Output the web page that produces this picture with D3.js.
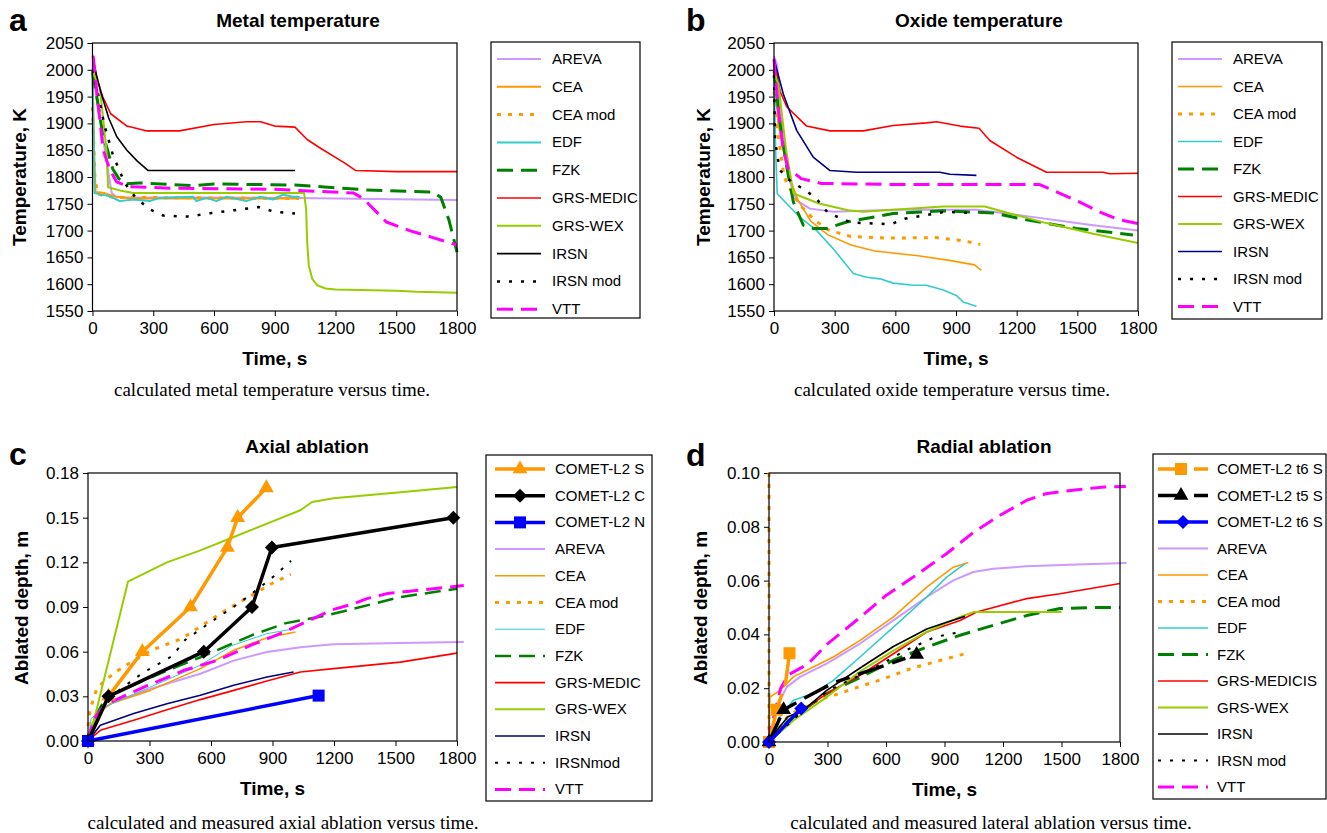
<!DOCTYPE html>
<html lang="en">
<head>
<meta charset="UTF-8">
<title>Temperatures and ablation</title>
<script src="https://cdn.jsdelivr.net/npm/d3@7"></script>
<style>
  body { margin: 0; background: #fff; }
  text { font-family: Arial, "Liberation Sans", sans-serif; fill: #000; }
  .caption { font-family: "Liberation Serif", "Times New Roman", serif; }
</style>
</head>
<body>
<div id="vis"></div>
<script>
// ---- shared ticks ----
var timeTicks = [0, 300, 600, 900, 1200, 1500, 1800];
var tempTicks = [1550, 1600, 1650, 1700, 1750, 1800, 1850, 1900, 1950, 2000, 2050];
var axialTicks = [0, 0.03, 0.06, 0.09, 0.12, 0.15, 0.18];
var radialTicks = [0, 0.02, 0.04, 0.06, 0.08, 0.10];

// ---- a: metal temperature [time s, K] ----
var metalAREVA = [[0,1995],[40,1900],[80,1805],[95,1770],[120,1762],[1000,1761],[1800,1757]];
var metalCEA = [[0,2000],[8,1850],[15,1772],[60,1770],[118,1763],[200,1760],[1020,1760]];
var metalCEAmod = [[0,1930],[12,1800],[25,1768],[100,1762],[1020,1760]];
var metalEDF = [[0,2000],[4,1900],[10,1770],[20,1769],[86,1764],[135,1755],[200,1758],[283,1755],[332,1761],[497,1763],[513,1755],[563,1761],[612,1755],[661,1763],[760,1755],[826,1763],[892,1758],[941,1767],[990,1763],[1023,1763]];
var metalFZK = [[0,1995],[30,1930],[50,1880],[70,1856],[100,1815],[130,1797],[160,1787],[230,1789],[500,1784],[600,1787],[1000,1785],[1200,1780],[1350,1776],[1680,1772],[1720,1762],[1760,1720],[1800,1660]];
var metalMEDIC = [[0,2020],[20,1985],[50,1950],[90,1918],[170,1895],[270,1886],[430,1886],[600,1898],[760,1903],[830,1903],[900,1895],[1000,1893],[1060,1870],[1120,1855],[1250,1825],[1300,1812],[1500,1810],[1800,1810]];
var metalWEX = [[0,1995],[36,1968],[69,1850],[77,1781],[135,1775],[201,1770],[1045,1770],[1055,1740],[1060,1680],[1068,1635],[1085,1610],[1110,1598],[1150,1592],[1200,1590],[1500,1588],[1600,1586],[1800,1584]];
var metalIRSN = [[0,2025],[20,1990],[40,1960],[80,1910],[120,1875],[170,1850],[220,1830],[275,1812],[1000,1812]];
var metalIRSNmod = [[0,2000],[30,1950],[60,1895],[100,1842],[130,1815],[160,1788],[210,1763],[280,1740],[350,1728],[480,1726],[550,1731],[700,1738],[820,1744],[900,1735],[1000,1732]];
var metalVTT = [[0,2025],[4,2024],[29,1931],[53,1850],[86,1813],[119,1791],[177,1782],[400,1779],[900,1777],[1290,1770],[1336,1760],[1402,1735],[1451,1716],[1566,1700],[1681,1687],[1800,1673]];

// ---- b: oxide temperature ----
var oxAREVA = [[0,2025],[15,2010],[40,1900],[70,1800],[112,1756],[178,1741],[293,1735],[590,1739],[1001,1739],[1248,1727],[1578,1710],[1800,1700]];
var oxCEA = [[0,2010],[20,1900],[69,1807],[119,1757],[183,1717],[267,1692],[381,1673],[498,1662],[712,1653],[875,1644],[992,1636],[1025,1626]];
var oxCEAmod = [[0,1960],[20,1880],[50,1800],[90,1770],[135,1745],[200,1720],[270,1701],[380,1689],[550,1686],[800,1687],[940,1681],[1020,1674]];
var oxEDF = [[0,2000],[8,1850],[16,1769],[63,1750],[128,1725],[211,1700],[293,1666],[392,1620],[458,1613],[524,1610],[590,1602],[688,1598],[754,1598],[837,1589],[902,1579],[935,1567],[1001,1559]];
var oxFZK = [[0,2000],[30,1900],[63,1819],[96,1753],[145,1710],[194,1704],[260,1704],[359,1716],[590,1732],[837,1737],[1084,1733],[1248,1720],[1495,1704],[1775,1692]];
var oxMEDIC = [[0,2020],[30,1960],[63,1931],[161,1895],[277,1886],[441,1886],[590,1896],[754,1901],[804,1903],[919,1895],[1014,1891],[1067,1868],[1199,1837],[1347,1809],[1627,1809],[1660,1806],[1800,1807]];
var oxWEX = [[0,1995],[21,1974],[60,1850],[96,1770],[119,1766],[218,1751],[366,1738],[441,1735],[590,1739],[837,1745],[1042,1745],[1166,1732],[1347,1714],[1578,1694],[1800,1677]];
var oxIRSN = [[0,2020],[46,1955],[112,1887],[194,1837],[277,1812],[408,1809],[820,1809],[870,1805],[1001,1803]];
var oxIRSNmod = [[0,1990],[5,1870],[28,1813],[86,1791],[152,1776],[209,1760],[267,1733],[381,1715],[579,1712],[646,1722],[844,1735],[992,1733]];
var oxVTT = [[0,2020],[20,1931],[44,1856],[69,1816],[135,1797],[234,1788],[600,1786],[1000,1786],[1314,1786],[1380,1775],[1512,1753],[1627,1732],[1710,1720],[1800,1713]];

// ---- c: axial ablation [time s, m] ----
var axCometS = [[0,0],[100,0.03],[265,0.06],[500,0.09],[680,0.13],[730,0.15],[870,0.17]];
var axCometC = [[0,0],[100,0.03],[565,0.06],[800,0.09],[897,0.13],[1782,0.15]];
var axCometN = [[0,0],[1125,0.0305]];
var axAREVA = [[0,0],[30,0.012],[60,0.0206],[125,0.0262],[304,0.035],[548,0.0452],[711,0.054],[873,0.0598],[1036,0.063],[1198,0.065],[1524,0.0658],[1833,0.0665]];
var axCEA = [[0,0],[20,0.012],[60,0.02],[110,0.025],[304,0.034],[548,0.0486],[711,0.061],[873,0.0694],[1012,0.0732]];
var axCEAmod = [[0,0.01],[10,0.021],[45,0.036],[130,0.046],[200,0.052],[310,0.061],[460,0.069],[650,0.086],[750,0.094],[900,0.106],[990,0.112]];
var axEDF = [[0,0],[15,0.015],[40,0.018],[100,0.024],[300,0.036],[550,0.051],[700,0.064],[870,0.072],[990,0.075]];
var axFZK = [[0,0],[30,0.015],[70,0.025],[110,0.031],[148,0.033],[311,0.043],[555,0.0566],[798,0.071],[961,0.079],[1172,0.0846],[1524,0.0967],[1800,0.1023]];
var axMEDIC = [[0,0],[60,0.0072],[223,0.0139],[385,0.021],[548,0.0278],[711,0.034],[873,0.0403],[1036,0.0463],[1198,0.0486],[1361,0.0508],[1524,0.053],[1800,0.059]];
var axWEX = [[0,0],[40,0.02],[195,0.107],[385,0.12],[548,0.128],[711,0.137],[873,0.146],[1036,0.155],[1093,0.1605],[1198,0.163],[1524,0.167],[1800,0.1706]];
var axIRSN = [[0,0],[60,0.0105],[223,0.0184],[385,0.025],[548,0.0307],[711,0.0374],[873,0.043],[1003,0.0463]];
var axIRSNmod = [[0,0],[50,0.02],[100,0.029],[140,0.033],[270,0.046],[410,0.057],[475,0.068],[590,0.079],[720,0.091],[800,0.099],[910,0.111],[990,0.121]];
var axVTT = [[0,0],[30,0.015],[80,0.024],[132,0.0275],[278,0.0365],[473,0.0477],[636,0.0544],[798,0.0645],[961,0.0734],[1189,0.088],[1296,0.0922],[1361,0.0956],[1459,0.099],[1686,0.1023],[1833,0.1045]];

// ---- d: radial ablation ----
var radT6S = [[0,0],[40,0.012],[85,0.022],[105,0.033]];
var radT5S = [[0,0],[75,0.012],[200,0.017],[330,0.022],[757,0.0325]];
var radT6Sb = [[0,0],[165,0.0125]];
var radAREVA = [[0,0],[39,0.013],[91,0.0204],[159,0.0242],[296,0.0291],[467,0.0366],[638,0.0452],[809,0.0539],[945,0.0601],[1048,0.0632],[1150,0.0644],[1321,0.0653],[1578,0.066],[1834,0.0665]];
var radCEA = [[0,0],[5,0.0167],[56,0.0192],[91,0.0217],[125,0.0242],[227,0.0279],[330,0.0316],[467,0.0378],[638,0.0465],[809,0.0576],[945,0.065],[1022,0.0667]];
var radCEAmod = [[0,0.1],[0,0],[100,0.01],[253,0.0156],[338,0.0175],[441,0.02],[595,0.0237],[732,0.0274],[886,0.0305],[1014,0.033]];
var radEDF = [[0,0],[56,0.0093],[125,0.0155],[227,0.018],[330,0.0229],[467,0.0316],[638,0.0427],[809,0.0539],[911,0.0613],[1005,0.0663]];
var radFZK = [[0,0],[100,0.008],[296,0.018],[467,0.024],[638,0.0304],[809,0.0353],[980,0.0397],[1150,0.0434],[1321,0.047],[1492,0.0496],[1663,0.05],[1800,0.05]];
var radMEDIC = [[0,0],[125,0.0093],[296,0.018],[467,0.0248],[638,0.0328],[809,0.0409],[980,0.0452],[1065,0.0483],[1321,0.0533],[1492,0.0551],[1800,0.0589]];
var radWEX = [[0,0],[125,0.008],[296,0.0167],[467,0.0262],[638,0.034],[809,0.0409],[980,0.0465],[1048,0.0483],[1500,0.0483]];
var radIRSN = [[0,0],[14,0.002],[97,0.0094],[176,0.0118],[296,0.0192],[467,0.0275],[638,0.0355],[809,0.042],[911,0.0445],[1005,0.0467]];
var radIRSNmod = [[0,0],[150,0.01],[300,0.019],[500,0.026],[700,0.034],[850,0.039],[990,0.041]];
var radVTT = [[0,0],[10,0.005],[30,0.011],[60,0.02],[100,0.025],[200,0.029],[300,0.0365],[470,0.0465],[600,0.0545],[740,0.0613],[910,0.07],[1050,0.078],[1185,0.0843],[1320,0.0898],[1420,0.0923],[1580,0.0938],[1720,0.0948],[1830,0.095]];

// line styles
var lav = "#cc99ff", orange = "#ff9900", cyan = "#33cccc", green = "#008000",
    red = "#ff0000", lime = "#99cc00", navy = "#000080", magenta = "#ff00ff";
function st(color, w, dash) { return {color: color, w: w, dash: dash || null}; }

var width = 1327, height = 833;
var svg = d3.select("#vis").append("svg").attr("width", width).attr("height", height);

var panels = [
  {letter: "a", lx: 9, ly: 31, title: "Metal temperature", tx: 298, ty: 27,
   box: [92.5, 43, 457, 311], ydom: [1550, 2050], yticks: tempTicks, fmt: d3.format("d"),
   ylabel: "Temperature, K", ylx: 26, yly: 177,
   caption: "calculated metal temperature versus time.", cx: 272, cy: 396,
   legend: {box: [491, 42, 640, 318], x0: 497, x1: 541, tx: 552, y0: 59, dy: 27.8},
   series: [
     ["AREVA", metalAREVA, st(lav, 2)], ["CEA", metalCEA, st(orange, 2)],
     ["CEA mod", metalCEAmod, st(orange, 3, "4,7")], ["EDF", metalEDF, st(cyan, 2)],
     ["FZK", metalFZK, st(green, 3, "16,8")], ["GRS-MEDIC", metalMEDIC, st(red, 1.6)],
     ["GRS-WEX", metalWEX, st(lime, 2)], ["IRSN", metalIRSN, st("#000", 1.6)],
     ["IRSN mod", metalIRSNmod, st("#000", 2.5, "3,9")], ["VTT", metalVTT, st(magenta, 3, "16,8")]
   ]},
  {letter: "b", lx: 686, ly: 31, title: "Oxide temperature", tx: 979, ty: 27,
   box: [774, 43, 1138, 311], ydom: [1550, 2050], yticks: tempTicks, fmt: d3.format("d"),
   ylabel: "Temperature, K", ylx: 710, yly: 177,
   caption: "calculated oxide temperature versus time.", cx: 952, cy: 396,
   legend: {box: [1172, 42, 1322, 319], x0: 1178, x1: 1222, tx: 1233, y0: 59, dy: 27.5},
   series: [
     ["AREVA", oxAREVA, st(lav, 2)], ["CEA", oxCEA, st(orange, 1.6)],
     ["CEA mod", oxCEAmod, st(orange, 3, "4,7")], ["EDF", oxEDF, st(cyan, 1.6)],
     ["FZK", oxFZK, st(green, 3, "16,8")], ["GRS-MEDIC", oxMEDIC, st(red, 1.6)],
     ["GRS-WEX", oxWEX, st(lime, 2)], ["IRSN", oxIRSN, st(navy, 1.6)],
     ["IRSN mod", oxIRSNmod, st("#000", 2.5, "3,9")], ["VTT", oxVTT, st(magenta, 3, "16,8")]
   ]},
  {letter: "c", lx: 9, ly: 465, title: "Axial ablation", tx: 307, ty: 453,
   box: [88, 473, 457, 741], ydom: [0, 0.18], yticks: axialTicks, fmt: d3.format(".2f"),
   ylabel: "Ablated depth, m", ylx: 28, yly: 608,
   caption: "calculated and measured axial ablation versus time.", cx: 283, cy: 829,
   legend: {box: [486, 455, 652, 801], x0: 495, x1: 545, tx: 555, y0: 469, dy: 26.7},
   series: [
     ["COMET-L2 S", axCometS, st(orange, 3.5), "triangle"],
     ["COMET-L2 C", axCometC, st("#000", 3.5), "diamond"],
     ["COMET-L2 N", axCometN, st("#0000ff", 3.5), "square"],
     ["AREVA", axAREVA, st(lav, 2)], ["CEA", axCEA, st(orange, 1.6)],
     ["CEA mod", axCEAmod, st(orange, 3, "4,7")], ["EDF", axEDF, st(cyan, 1)],
     ["FZK", axFZK, st(green, 2.5, "16,8")], ["GRS-MEDIC", axMEDIC, st(red, 1.6)],
     ["GRS-WEX", axWEX, st(lime, 2)], ["IRSN", axIRSN, st(navy, 1.6)],
     ["IRSNmod", axIRSNmod, st("#000", 2, "3,9")], ["VTT", axVTT, st(magenta, 3, "16,8")]
   ]},
  {letter: "d", lx: 686, ly: 466, title: "Radial ablation", tx: 984, ty: 453,
   box: [769, 473, 1120, 742], ydom: [0, 0.10], yticks: radialTicks, fmt: d3.format(".2f"),
   ylabel: "Ablated depth, m", ylx: 707, yly: 608,
   caption: "calculated and measured lateral ablation versus time.", cx: 991, cy: 829,
   legend: {box: [1153, 454, 1326, 799], x0: 1158, x1: 1208, tx: 1217, y0: 469, dy: 26.5},
   series: [
     ["COMET-L2 t6 S", radT6S, st(orange, 3.5, "27,9,14,9"), "square"],
     ["COMET-L2 t5 S", radT5S, st("#000", 3.5, "27,9,14,9"), "triangle"],
     ["COMET-L2 t6 S", radT6Sb, st("#0000ff", 3.5), "diamond"],
     ["AREVA", radAREVA, st(lav, 2)], ["CEA", radCEA, st(orange, 1.6)],
     ["CEA mod", radCEAmod, st(orange, 3, "4,7")], ["EDF", radEDF, st(cyan, 1.6)],
     ["FZK", radFZK, st(green, 3, "16,8")], ["GRS-MEDICIS", radMEDIC, st(red, 1.6)],
     ["GRS-WEX", radWEX, st(lime, 2)], ["IRSN", radIRSN, st("#000", 1.6)],
     ["IRSN mod", radIRSNmod, st("#000", 2, "3,9")], ["VTT", radVTT, st(magenta, 3, "16,8")]
   ]}
];

function marker(sel, kind, color) {
  var p;
  if (kind === "triangle") p = d3.symbol().type(d3.symbolTriangle).size(95)();
  else if (kind === "square") p = "M-6,-6H6V6H-6Z";
  else p = "M0,-7L7,0L0,7L-7,0Z";
  return sel.attr("d", p).attr("fill", color).attr("stroke", "none");
}

panels.forEach(function (P) {
  var b = P.box;
  var x = d3.scaleLinear().domain([0, 1800]).range([b[0], b[2]]);
  var y = d3.scaleLinear().domain(P.ydom).range([b[3], b[1]]);
  var g = svg.append("g");

  // axes
  g.append("g").attr("transform", "translate(" + b[0] + ",0)")
    .call(d3.axisLeft(y).tickValues(P.yticks).tickFormat(P.fmt).tickSize(5).tickPadding(4))
    .call(function (a) { a.select(".domain").remove(); })
    .selectAll("text").attr("font-size", 17).attr("font-family", "Arial, 'Liberation Sans', sans-serif");
  g.append("g").attr("transform", "translate(0," + b[3] + ")")
    .call(d3.axisBottom(x).tickValues(timeTicks).tickFormat(d3.format("d")).tickSize(5).tickPadding(6))
    .call(function (a) { a.select(".domain").remove(); })
    .selectAll("text").attr("font-size", 17).attr("font-family", "Arial, 'Liberation Sans', sans-serif");
  g.selectAll(".tick line").attr("stroke", "#000");

  // series lines
  var line = d3.line().x(function (d) { return x(d[0]); }).y(function (d) { return y(d[1]); });
  var order = P.series.slice(3).concat(P.series.slice(0, 3).filter(function (s) { return s[3]; }));
  if (!P.series[0][3]) order = P.series;
  order.forEach(function (s) {
    g.append("path").datum(s[1]).attr("d", line)
      .attr("fill", "none").attr("stroke", s[2].color).attr("stroke-width", s[2].w)
      .attr("stroke-dasharray", s[2].dash).attr("stroke-linejoin", "round");
    if (s[3]) {
      var pts = s[1];
      if (s[1] === radT6S) pts = [s[1][0], s[1][1], s[1][3]];
      if (s[1] === radT5S) pts = [s[1][0], s[1][1], s[1][4]];
      g.selectAll(null).data(pts).enter().append("path")
        .attr("transform", function (d) { return "translate(" + x(d[0]) + "," + y(d[1]) + ")"; })
        .call(marker, s[3], s[2].color);
    }
  });

  // frame
  g.append("rect").attr("x", b[0]).attr("y", b[1]).attr("width", b[2] - b[0]).attr("height", b[3] - b[1])
    .attr("fill", "none").attr("stroke", "#000").attr("stroke-width", 1.2);

  // labels
  g.append("text").attr("x", P.lx).attr("y", P.ly).attr("font-size", 32).attr("font-weight", "bold").text(P.letter);
  g.append("text").attr("x", P.tx).attr("y", P.ty).attr("text-anchor", "middle")
    .attr("font-size", 19).attr("font-weight", "bold").text(P.title);
  g.append("text").attr("x", (b[0] + b[2]) / 2).attr("y", b[3] + 54).attr("text-anchor", "middle")
    .attr("font-size", 19).attr("font-weight", "bold").text("Time, s");
  g.append("text").attr("transform", "translate(" + P.ylx + "," + P.yly + ") rotate(-90)")
    .attr("text-anchor", "middle").attr("font-size", 19).attr("font-weight", "bold").text(P.ylabel);
  g.append("text").attr("class", "caption").attr("x", P.cx).attr("y", P.cy)
    .attr("text-anchor", "middle").attr("font-size", 19).text(P.caption);

  // legend
  var L = P.legend;
  g.append("rect").attr("x", L.box[0]).attr("y", L.box[1])
    .attr("width", L.box[2] - L.box[0]).attr("height", L.box[3] - L.box[1])
    .attr("fill", "#fff").attr("stroke", "#000").attr("stroke-width", 1.2);
  P.series.forEach(function (s, i) {
    var yy = L.y0 + i * L.dy;
    g.append("line").attr("x1", L.x0).attr("x2", L.x1).attr("y1", yy).attr("y2", yy)
      .attr("stroke", s[2].color).attr("stroke-width", s[2].w).attr("stroke-dasharray", s[2].dash);
    if (s[3]) {
      g.append("path").attr("transform", "translate(" + (s[2].dash ? L.x0 + 23 : (L.x0 + L.x1) / 2) + "," + yy + ")")
        .call(marker, s[3], s[2].color);
    }
    g.append("text").attr("x", L.tx).attr("y", yy + 5).attr("font-size", 15).text(s[0]);
  });
});
</script>
</body>
</html>
